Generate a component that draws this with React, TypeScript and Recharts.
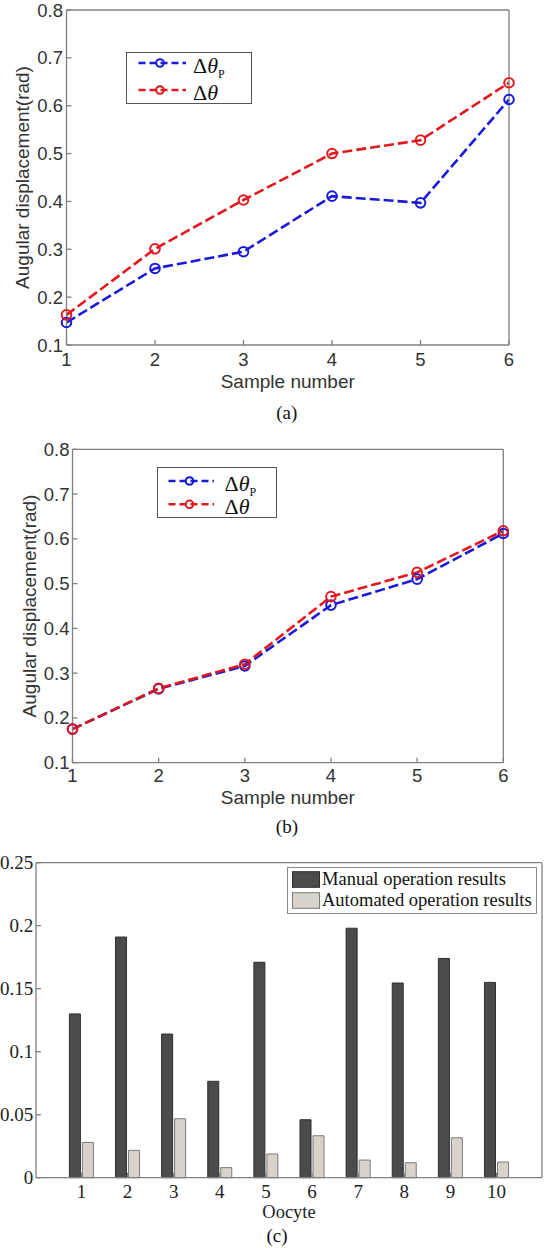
import React from 'react';
import { LineChart, Line, BarChart, Bar, XAxis, YAxis, Legend } from 'recharts';

const SANS = "'Liberation Sans', Arial, sans-serif";
const SERIF = "'Liberation Serif', 'Times New Roman', serif";
const FRAME = '#808080';
const BLUE = '#1a1ad8';
const RED = '#e0191e';

// (a) and (b): angular displacement per sample
const samples = [1, 2, 3, 4, 5, 6];
const angleTicks = [0.1, 0.2, 0.3, 0.4, 0.5, 0.6, 0.7, 0.8];
const thetaPA = [0.147, 0.26, 0.295, 0.411, 0.397, 0.613];
const thetaA = [0.163, 0.301, 0.403, 0.5, 0.528, 0.648];
const thetaPB = [0.175, 0.265, 0.316, 0.452, 0.51, 0.612];
const thetaB = [0.175, 0.266, 0.32, 0.471, 0.525, 0.618];

// (c): oocyte results
const oocytes = ['1', '2', '3', '4', '5', '6', '7', '8', '9', '10'];
const manual = [0.13, 0.191, 0.114, 0.0765, 0.171, 0.046, 0.198, 0.1545, 0.174, 0.155];
const automated = [0.028, 0.0217, 0.0468, 0.008, 0.0188, 0.0333, 0.014, 0.0119, 0.0317, 0.0124];
const errorTicks = [0, 0.05, 0.1, 0.15, 0.2, 0.25];
const barLegend = [
  { name: 'Manual operation results', fill: '#4b4b4b', stroke: '#2e2e2e' },
  { name: 'Automated operation results', fill: '#d7d3cb', stroke: '#7a7a7a' },
];

type LegendBox = {
  left: number; top: number; width: number; height: number;
  rows: number[]; dashFrom: number; dashTo: number; dot: number; textX: number;
};

type AngleProps = {
  top: number;
  height: number;
  margin: { top: number; right: number; bottom: number; left: number };
  p: number[];
  q: number[];
  xTickMargin: number;
  yTickMargin: number;
  yTitleX: number;
  xTitleDy: number;
  caption: string;
  captionDy: number;
  legend: LegendBox;
};

const AngleLegend = ({ box }: { box: LegendBox }) => (
  <svg width={box.width} height={box.height} style={{ display: 'block' }}>
    <rect x={0.5} y={0.5} width={box.width - 1} height={box.height - 1} fill="#fff" stroke="#555" />
    {[BLUE, RED].map((c, i) => (
      <g key={c}>
        <line x1={box.dashFrom} x2={box.dashTo} y1={box.rows[i]} y2={box.rows[i]} stroke={c} strokeWidth={2.5} strokeDasharray="7 4" />
        <circle cx={box.dot} cy={box.rows[i]} r={3.8} stroke={c} strokeWidth={2} fill="none" />
        <text x={box.textX} y={box.rows[i] + 10} fontFamily={SERIF} fontSize={22} fill="#111">
          Δ<tspan fontStyle="italic">θ</tspan>
          {i === 0 && <tspan fontSize={12} dy={5}>P</tspan>}
        </text>
      </g>
    ))}
  </svg>
);

const AngleChart = (props: AngleProps) => {
  const data = samples.map((s, i) => ({ sample: s, p: props.p[i], q: props.q[i] }));
  const tickStyle = { fill: '#333', fontSize: 18.5, fontFamily: SANS };
  const lineStyle = { strokeWidth: 2.6, strokeDasharray: '10 4', isAnimationActive: false };
  const dot = (c: string) => ({ r: 4.8, stroke: c, strokeWidth: 2, fill: 'none', strokeDasharray: 'none' });
  return (
    <div style={{ position: 'absolute', left: 0, top: props.top }}>
      <LineChart width={548} height={props.height} data={data} margin={props.margin}>
        <XAxis
          dataKey="sample" type="number" domain={[1, 6]} ticks={samples} height={40}
          stroke={FRAME} strokeWidth={1.3} tickSize={-5} tickMargin={props.xTickMargin} tick={tickStyle}
          label={{
            content: (lp: any) => {
              const vb = lp.viewBox || { x: 0, y: 0, width: 0 };
              const cx = vb.x + vb.width / 2;
              return (
                <g>
                  <text x={cx} y={vb.y + props.xTitleDy} textAnchor="middle" dominantBaseline="central" fontFamily={SANS} fontSize={19} fill="#333">
                    Sample number
                  </text>
                  <text x={cx - 1} y={vb.y + props.captionDy} textAnchor="middle" dominantBaseline="central" fontFamily={SERIF} fontSize={19} fill="#111">
                    {props.caption}
                  </text>
                </g>
              );
            },
          }}
        />
        <XAxis xAxisId="top" orientation="top" dataKey="sample" type="number" domain={[1, 6]} ticks={samples} height={1} stroke={FRAME} strokeWidth={1.3} tickSize={-5} tick={false} />
        <YAxis
          type="number" domain={[0.1, 0.8]} ticks={angleTicks} width={60}
          stroke={FRAME} strokeWidth={1.3} tickSize={-5} tickMargin={props.yTickMargin} tick={tickStyle}
          label={{
            content: (lp: any) => {
              const vb = lp.viewBox || { y: 0, height: 0 };
              const cy = vb.y + vb.height / 2;
              return (
                <text x={props.yTitleX} y={cy} transform={`rotate(-90, ${props.yTitleX}, ${cy})`} textAnchor="middle" dominantBaseline="central" fontFamily={SANS} fontSize={19} fill="#333">
                  Augular displacement(rad)
                </text>
              );
            },
          }}
        />
        <YAxis yAxisId="right" orientation="right" type="number" domain={[0.1, 0.8]} ticks={angleTicks} width={1} stroke={FRAME} strokeWidth={1.3} tickSize={-5} tick={false} />
        <Legend
          layout="vertical" align="center" verticalAlign="middle"
          wrapperStyle={{ left: props.legend.left, top: props.legend.top, width: props.legend.width, height: props.legend.height }}
          content={() => <AngleLegend box={props.legend} />}
        />
        <Line dataKey="p" stroke={BLUE} dot={dot(BLUE)} {...lineStyle} />
        <Line dataKey="q" stroke={RED} dot={dot(RED)} {...lineStyle} />
      </LineChart>
    </div>
  );
};

const OocyteChart = () => {
  const data = oocytes.map((o, i) => ({ oocyte: o, manual: manual[i], automated: automated[i] }));
  const tickStyle = { fill: '#222', fontSize: 19, fontFamily: SERIF };
  return (
    <div style={{ position: 'absolute', left: 0, top: 840 }}>
      <BarChart width={548} height={408} data={data} margin={{ top: 21.7, right: 5, bottom: 30.3, left: 0 }} barSize={11} barGap={2}>
        <XAxis
          dataKey="oocyte" padding={{ left: 22.4, right: 22.4 }} height={40}
          stroke={FRAME} strokeWidth={1.3} tickSize={-5} tickMargin={12} tick={tickStyle}
          label={{
            content: (lp: any) => {
              const vb = lp.viewBox || { x: 0, y: 0, width: 0 };
              const cx = vb.x + vb.width / 2;
              return (
                <g>
                  <text x={cx} y={vb.y + 34} textAnchor="middle" dominantBaseline="central" fontFamily={SERIF} fontSize={18.5} fill="#222">
                    Oocyte
                  </text>
                  <text x={cx - 12} y={vb.y + 57.3} textAnchor="middle" dominantBaseline="central" fontFamily={SERIF} fontSize={19} fill="#111">
                    (c)
                  </text>
                </g>
              );
            },
          }}
        />
        <XAxis xAxisId="top" orientation="top" dataKey="oocyte" padding={{ left: 22.4, right: 22.4 }} height={1} stroke={FRAME} strokeWidth={1.3} tickSize={-5} tick={false} />
        <YAxis type="number" domain={[0, 0.25]} ticks={errorTicks} width={36} stroke={FRAME} strokeWidth={1.3} tickSize={-5} tickMargin={7.7} tick={tickStyle} />
        <YAxis yAxisId="right" orientation="right" type="number" domain={[0, 0.25]} ticks={errorTicks} width={1} stroke={FRAME} strokeWidth={1.3} tickSize={-5} tick={false} />
        <Legend
          layout="vertical" align="center" verticalAlign="middle"
          wrapperStyle={{ left: 287, top: 27, width: 250, height: 47 }}
          content={() => (
            <svg width={250} height={47} style={{ display: 'block' }}>
              <rect x={0.5} y={0.5} width={249} height={46} fill="#fff" stroke="#888" />
              {barLegend.map((s, i) => (
                <g key={s.name}>
                  <rect x={5.5} y={4.7 + i * 21} width={27} height={15.6} fill={s.fill} stroke={s.stroke} />
                  <text x={35} y={18 + i * 21} fontFamily={SERIF} fontSize={18.5} fill="#111">{s.name}</text>
                </g>
              ))}
            </svg>
          )}
        />
        <Bar dataKey="manual" fill={barLegend[0].fill} stroke={barLegend[0].stroke} isAnimationActive={false} />
        <Bar dataKey="automated" fill={barLegend[1].fill} stroke={barLegend[1].stroke} isAnimationActive={false} />
      </BarChart>
    </div>
  );
}

export default function App() {
  return (
    <div style={{ position: 'absolute', left: 0, top: 0, width: 548, height: 1248, background: '#fff' }}>
      <AngleChart
        top={0} height={430}
        margin={{ top: 9, right: 38, bottom: 45, left: 6.5 }}
        p={thetaPA} q={thetaA}
        xTickMargin={13} yTickMargin={8.5} yTitleX={22.8} xTitleDy={36.5}
        caption="(a)" captionDy={67}
        legend={{ left: 125.5, top: 52, width: 126, height: 52, rows: [11, 38], dashFrom: 12.5, dashTo: 60, dot: 34, textX: 67 }}
      />
      <AngleChart
        top={430} height={410}
        margin={{ top: 18.3, right: 43.7, bottom: 37.3, left: 12.5 }}
        p={thetaPB} q={thetaB}
        xTickMargin={11.5} yTickMargin={8} yTitleX={29.8} xTitleDy={35}
        caption="(b)" captionDy={63.5}
        legend={{ left: 156.6, top: 37, width: 120, height: 51, rows: [14, 37.3], dashFrom: 11.5, dashTo: 57, dot: 32.5, textX: 67.5 }}
      />
      <OocyteChart />
    </div>
  );
}
